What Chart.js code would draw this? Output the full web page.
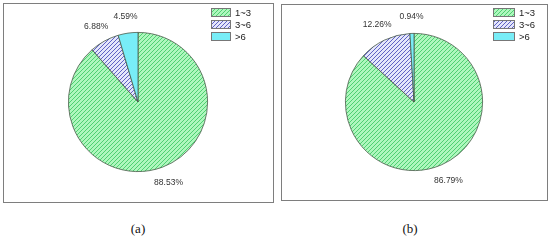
<!DOCTYPE html>
<html>
<head>
<meta charset="utf-8">
<script src="https://cdn.jsdelivr.net/npm/chart.js@4.4.1/dist/chart.umd.min.js"></script>
<style>
  body { margin: 0; background: #fff; }
  #wrap { position: relative; width: 550px; height: 242px; overflow: hidden; }
  .frame { position: absolute; border: 1.5px solid #7e7e7e; box-sizing: border-box; }
  .cv { position: absolute; }
  .cap { position: absolute; font-family: "Liberation Serif", serif; font-size: 13px; color: #111; text-align: center; width: 40px; }
</style>
</head>
<body>
<div id="wrap">
  <div class="frame" style="left:3px; top:3px; width:271px; height:200px;"></div>
  <div class="frame" style="left:281px; top:4px; width:267px; height:197px;"></div>
  <div class="cv" style="left:0px; top:0px; width:276px; height:204px;"><canvas id="chartA"></canvas></div>
  <div class="cv" style="left:276px; top:0px; width:276px; height:204px;"><canvas id="chartB"></canvas></div>
  <div class="cap" style="left:118px; top:221px;">(a)</div>
  <div class="cap" style="left:390px; top:221px;">(b)</div>
</div>
<script>
const categories = ['1~3', '3~6', '>6'];
const valuesA = [88.53, 6.88, 4.59];
const valuesB = [86.79, 12.26, 0.94];

function hatch(bg, line) {
    var c = document.createElement('canvas');
    c.width = 4; c.height = 4;
    var g = c.getContext('2d');
    g.fillStyle = bg;
    g.fillRect(0, 0, 4, 4);
    g.strokeStyle = line;
    g.lineWidth = 1;
    g.beginPath();
    g.moveTo(-1, 5); g.lineTo(5, -1);
    g.moveTo(-1, 1); g.lineTo(1, -1);
    g.moveTo(3, 5); g.lineTo(5, 3);
    g.stroke();
    return g.createPattern(c, 'repeat');
}

var greenFill = hatch('#aef7bd', '#4fcf72');
var purpleFill = hatch('#e4e6fb', '#5f62c4');
var cyanFill = '#78edf7';

// percentage labels outside each slice
const pctLabels = {
    id: 'pctLabels',
    afterDatasetsDraw(chart) {
        var ctx = chart.ctx;
        var meta = chart.getDatasetMeta(0);
        var vals = chart.data.datasets[0].data;
        ctx.save();
        ctx.font = '8.5px "Liberation Sans", Arial, sans-serif';
        ctx.fillStyle = '#333';
        ctx.textAlign = 'center';
        ctx.textBaseline = 'middle';
        meta.data.forEach(function (arc, i) {
            var mid = (arc.startAngle + arc.endAngle) / 2;
            var r = arc.outerRadius + 17;
            ctx.fillText(vals[i].toFixed(2) + '%', arc.x + Math.cos(mid) * r, arc.y + Math.sin(mid) * r);
        });
        ctx.restore();
    }
};

// legend in the top right corner
const boxLegend = {
    id: 'boxLegend',
    afterDraw(chart, args, opts) {
        var ctx = chart.ctx;
        var ds = chart.data.datasets[0];
        ctx.save();
        ctx.font = '9.5px "Liberation Sans", Arial, sans-serif';
        ctx.textBaseline = 'middle';
        chart.data.labels.forEach(function (lab, i) {
            var y = opts.y + i * 12;
            ctx.fillStyle = ds.backgroundColor[i];
            ctx.fillRect(opts.x, y, opts.w, 9);
            ctx.strokeStyle = '#777';
            ctx.lineWidth = 1;
            ctx.strokeRect(opts.x + 0.5, y + 0.5, opts.w - 1, 8);
            ctx.fillStyle = '#222';
            ctx.fillText(lab, opts.x + opts.w + 4, y + 5);
        });
        ctx.restore();
    }
};

function makePie(id, values, pad, legendPos) {
    return new Chart(document.getElementById(id), {
        type: 'pie',
        data: {
            labels: categories,
            datasets: [{
                data: values,
                backgroundColor: [greenFill, purpleFill, cyanFill],
                borderColor: '#4a5a4a',
                borderWidth: 0.8
            }]
        },
        options: {
            responsive: true,
            maintainAspectRatio: false,
            animation: false,
            layout: { padding: pad },
            plugins: {
                legend: { display: false },
                tooltip: { enabled: false },
                boxLegend: legendPos
            }
        },
        plugins: [pctLabels, boxLegend]
    });
}

makePie('chartA', valuesA, { top: 32, bottom: 32, left: 0, right: 0 }, { x: 211, y: 8, w: 20 });
makePie('chartB', valuesB, { top: 33, bottom: 33, left: 0, right: 0 }, { x: 217, y: 8, w: 22 });
</script>
</body>
</html>
